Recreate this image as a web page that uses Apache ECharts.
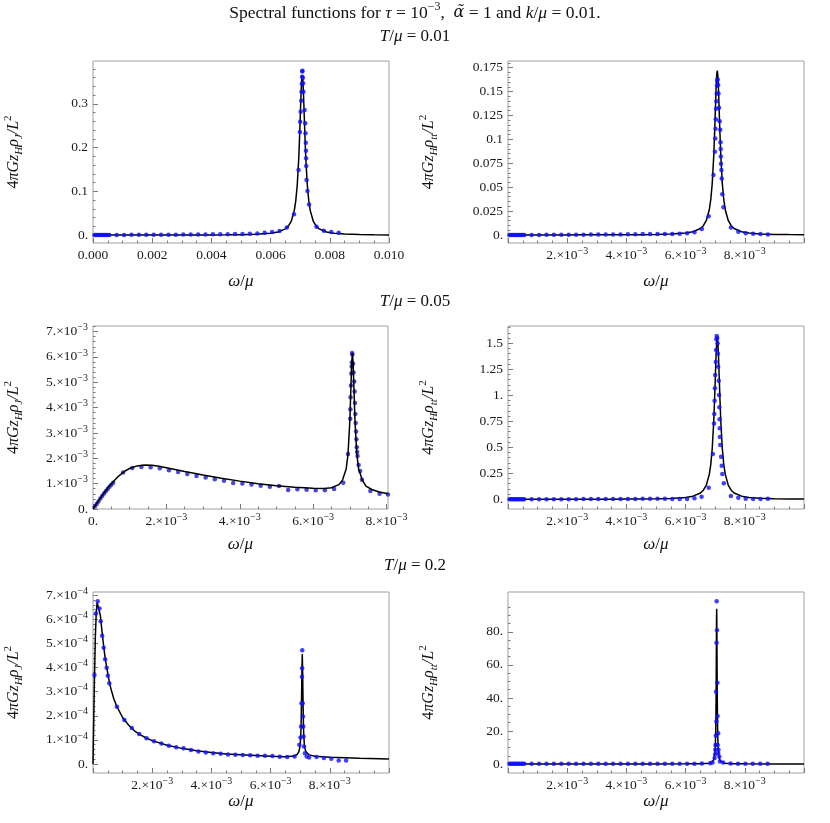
<!DOCTYPE html>
<html><head><meta charset="utf-8">
<script src="https://cdn.jsdelivr.net/npm/echarts@6/dist/echarts.min.js"></script>
<style>html,body{margin:0;padding:0;background:#fff}#c{width:830px;height:823px}</style>
</head><body><div id="c"></div>
<script>
// ---------------- DATA (x in units of 1e-3; y in units stated per panel) ----------------
// Panel 1: T/mu = 0.01, rho_J (y units 1)
const P1_LINE = [[0,0.0001],[0.5,0.00011],[1,0.00013],[1.5,0.00016],[2,0.00019],[2.5,0.00023],[3,0.00029],[3.5,0.00038],[4,0.00051],[4.5,0.00073],[5,0.00112],[5.5,0.00195],[6,0.0042],[6.25,0.0071],[6.5,0.0143],[6.6,0.0206],[6.7,0.0322],[6.8,0.0561],[6.85,0.0783],[6.9,0.1146],[6.95,0.1747],[6.98,0.2263],[7.0,0.2662],[7.03,0.3256],[7.05,0.3543],[7.07,0.365],[7.09,0.3543],[7.11,0.3256],[7.14,0.2662],[7.16,0.2263],[7.19,0.1747],[7.24,0.1146],[7.29,0.0783],[7.34,0.0561],[7.44,0.0322],[7.54,0.0206],[7.64,0.0143],[7.89,0.0071],[8.14,0.0042],[8.5,0.0023],[9,0.0013],[9.5,0.0008],[10,0.00056]];
const P1_DOTS = [[0.05,0.0002],[0.1,0.0002],[0.15,0.0002],[0.2,0.0002],[0.25,0.0002],[0.3,0.0002],[0.35,0.0002],[0.4,0.0002],[0.45,0.0002],[0.5,0.0002],[0.55,0.0002],
[0.8,0.0004],[1.05,0.0005],[1.3,0.0006],[1.55,0.0006],[1.8,0.0007],[2.05,0.0008],[2.3,0.0009],[2.55,0.001],[2.8,0.0011],[3.05,0.0012],[3.3,0.0013],[3.55,0.0015],[3.8,0.0016],[4.05,0.0018],[4.3,0.002],[4.55,0.0022],[4.8,0.0025],[5.05,0.0028],[5.3,0.0032],[5.55,0.004],[5.8,0.0052],[6.05,0.0072],[6.3,0.0095],[6.55,0.0176],[6.79,0.048],
[6.945,0.149],[6.99,0.236],[7.0,0.259],[7.015,0.282],[7.035,0.307],[7.045,0.328],[7.055,0.346],[7.065,0.362],[7.07,0.374],[7.075,0.376],[7.09,0.36],[7.1,0.347],[7.11,0.328],[7.15,0.286],[7.17,0.256],[7.18,0.233],[7.19,0.211],[7.195,0.193],[7.2,0.176],[7.205,0.158],[7.215,0.126],[7.245,0.101],[7.3,0.07],
[7.55,0.019],[7.8,0.0098],[8.05,0.0069],[8.3,0.0053]];

// Panel 2: T/mu = 0.01, rho_tt (y units 1)
const P2_LINE = [[0,0.00005],[0.5,0.00005],[1,0.00006],[1.5,0.00008],[2,0.00009],[2.5,0.00011],[3,0.00014],[3.5,0.00018],[4,0.00024],[4.5,0.00034],[5,0.00053],[5.5,0.00092],[6,0.00198],[6.25,0.00334],[6.5,0.00674],[6.6,0.0097],[6.7,0.0152],[6.8,0.0264],[6.85,0.0369],[6.9,0.054],[6.95,0.0823],[6.98,0.1066],[7.0,0.1254],[7.03,0.1534],[7.05,0.1669],[7.07,0.172],[7.09,0.1669],[7.11,0.1534],[7.14,0.1254],[7.16,0.1066],[7.19,0.0823],[7.24,0.054],[7.29,0.0369],[7.34,0.0264],[7.44,0.0152],[7.54,0.0097],[7.64,0.00674],[7.89,0.00334],[8.14,0.00198],[8.5,0.00108],[9,0.00061],[9.5,0.00038],[10,0.00026]];
const P2_DOTS = [[0.05,0.0001],[0.1,0.0001],[0.15,0.0001],[0.2,0.0001],[0.25,0.0001],[0.3,0.0001],[0.35,0.0001],[0.4,0.0001],[0.45,0.0001],[0.5,0.0001],[0.55,0.0001],
[0.8,0.0001],[1.05,0.0001],[1.3,0.0002],[1.55,0.0002],[1.8,0.0002],[2.05,0.0003],[2.3,0.0003],[2.55,0.0003],[2.8,0.0004],[3.05,0.0004],[3.3,0.0005],[3.55,0.0005],[3.8,0.0006],[4.05,0.0007],[4.3,0.0008],[4.55,0.0009],[4.8,0.001],[5.05,0.001],[5.3,0.0011],[5.55,0.0011],[5.8,0.0014],[6.05,0.0018],[6.3,0.0028],[6.55,0.0063],[6.78,0.0195],
[6.94,0.0628],[6.99,0.087],[7.0,0.101],[7.01,0.111],[7.02,0.121],[7.03,0.132],[7.04,0.14],[7.05,0.148],[7.06,0.156],[7.07,0.161],[7.08,0.163],[7.1,0.157],[7.11,0.148],[7.13,0.133],[7.15,0.119],[7.17,0.11],[7.18,0.097],[7.185,0.09],[7.19,0.082],[7.195,0.0746],[7.21,0.068],[7.22,0.059],[7.24,0.0425],[7.28,0.029],
[7.53,0.0077],[7.78,0.0035],[8.03,0.0017],[8.28,0.0013],[8.53,0.001],[8.78,0.0006]];

// Panel 3: T/mu = 0.05, rho_J (y units 1e-3)
const P3_LINE = [[0,0],[0.1,0.22],[0.2,0.43],[0.3,0.63],[0.4,0.83],[0.5,1.0],[0.6,1.15],[0.7,1.3],[0.8,1.42],[0.9,1.52],[1.0,1.6],[1.2,1.7],[1.4,1.74],[1.6,1.73],[1.8,1.69],[2.0,1.63],[2.5,1.48],[3.0,1.34],[3.5,1.21],[4.0,1.1],[4.5,1.0],[5.0,0.92],[5.5,0.86],[6.0,0.82],[6.3,0.81],[6.5,0.84],[6.7,0.96],[6.8,1.14],[6.9,1.58],[6.95,2.16],[7.0,3.47],[7.03,4.83],[7.05,5.74],[7.07,6.15],[7.09,5.74],[7.11,4.83],[7.14,3.47],[7.19,2.16],[7.24,1.58],[7.34,1.14],[7.44,0.9],[7.6,0.77],[7.8,0.67],[8.04,0.6]];
const P3_DOTS = [[0.05,0.1],[0.1,0.2],[0.15,0.3],[0.2,0.41],[0.25,0.51],[0.3,0.61],[0.35,0.7],[0.4,0.79],[0.45,0.88],[0.5,0.96],[0.55,1.04],
[0.82,1.44],[1.07,1.62],[1.32,1.66],[1.57,1.65],[1.82,1.61],[2.07,1.53],[2.32,1.46],[2.57,1.38],[2.82,1.3],[3.07,1.24],[3.32,1.17],[3.57,1.11],[3.82,1.03],[4.07,1.01],[4.32,0.97],[4.57,0.92],[4.82,0.88],[5.07,0.91],[5.32,0.75],[5.57,0.78],[5.82,0.76],[6.07,0.74],[6.32,0.74],[6.57,0.79],[6.82,1.04],
[6.95,2.17],[7.01,3.56],[7.015,3.94],[7.02,4.41],[7.03,4.87],[7.04,5.35],[7.05,5.62],[7.055,5.78],[7.06,6.15],[7.07,6.1],[7.09,5.73],[7.1,5.39],[7.12,5.03],[7.13,4.64],[7.14,4.18],[7.15,3.75],[7.16,3.39],[7.17,3.06],[7.18,2.75],[7.19,2.44],[7.2,2.25],[7.21,2.09],[7.24,1.74],[7.28,1.5],[7.33,1.15],
[7.56,0.71],[7.81,0.6],[8.04,0.57]];

// Panel 4: T/mu = 0.05, rho_tt (y units 1)
const P4_LINE = [[0,0.0004],[0.5,0.0005],[1,0.0006],[1.5,0.0007],[2,0.0008],[2.5,0.001],[3,0.0012],[3.5,0.0016],[4,0.0022],[4.5,0.0031],[5,0.0048],[5.5,0.0083],[6,0.0179],[6.25,0.0303],[6.5,0.061],[6.6,0.088],[6.7,0.1375],[6.8,0.2395],[6.85,0.334],[6.9,0.489],[6.95,0.746],[6.98,0.966],[7.0,1.137],[7.03,1.39],[7.05,1.513],[7.07,1.56],[7.09,1.513],[7.11,1.39],[7.14,1.137],[7.16,0.966],[7.19,0.746],[7.24,0.489],[7.29,0.334],[7.34,0.2395],[7.44,0.1375],[7.54,0.088],[7.64,0.061],[7.89,0.0303],[8.14,0.0179],[8.5,0.0098],[9,0.0056],[9.5,0.0034],[10,0.0024]];
const P4_DOTS = [[0.05,0.001],[0.1,0.001],[0.15,0.001],[0.2,0.001],[0.25,0.001],[0.3,0.001],[0.35,0.001],[0.4,0.001],[0.45,0.001],[0.5,0.001],[0.55,0.001],
[0.8,0.001],[1.05,0.001],[1.3,0.001],[1.55,0.001],[1.8,0.001],[2.05,0.0015],[2.3,0.0015],[2.55,0.002],[2.8,0.002],[3.05,0.002],[3.3,0.0025],[3.55,0.003],[3.8,0.003],[4.05,0.0035],[4.3,0.004],[4.55,0.0045],[4.8,0.005],[5.05,0.005],[5.3,0.005],[5.55,0.002],[5.8,0.003],[6.05,0.004],[6.3,0.01],[6.54,0.025],[6.78,0.112],
[6.92,0.436],[6.96,0.73],[6.97,0.82],[6.98,0.948],[6.99,1.067],[7.0,1.195],[7.02,1.32],[7.03,1.436],[7.04,1.538],[7.05,1.57],[7.07,1.55],[7.08,1.5],[7.09,1.4],[7.1,1.275],[7.12,1.14],[7.13,1.003],[7.14,0.884],[7.15,0.769],[7.155,0.682],[7.16,0.6],[7.17,0.522],[7.2,0.41],[7.22,0.323],[7.24,0.243],[7.29,0.154],
[7.53,0.032],[7.78,0.016],[8.03,0.006],[8.28,0.004],[8.53,0.004],[8.78,0.006]];

// Panel 5: T/mu = 0.2, rho_J (y units 1e-4)
const P5_LINE = [[0,0],[0.02,1.5],[0.05,3.6],[0.08,5.3],[0.11,6.3],[0.14,6.7],[0.17,6.76],[0.2,6.65],[0.25,6.15],[0.3,5.55],[0.35,5.0],[0.4,4.5],[0.45,4.1],[0.5,3.75],[0.55,3.42],[0.6,3.15],[0.7,2.72],[0.8,2.4],[1.0,1.93],[1.2,1.62],[1.4,1.38],[1.6,1.21],[1.8,1.08],[2.0,0.97],[2.5,0.78],[3.0,0.65],[3.5,0.55],[4.0,0.48],[4.5,0.42],[5.0,0.38],[5.5,0.35],[6.0,0.32],[6.5,0.3],[6.8,0.33],[6.9,0.4],[6.95,0.5],[6.98,0.65],[7.0,0.8],[7.02,1.2],[7.03,1.6],[7.04,2.3],[7.05,3.1],[7.06,4.0],[7.07,4.56],[7.08,4.0],[7.09,3.1],[7.1,2.3],[7.11,1.6],[7.12,1.2],[7.14,0.8],[7.17,0.6],[7.2,0.5],[7.3,0.38],[7.5,0.32],[8.0,0.28],[9.0,0.24],[10.0,0.21]];
const P5_DOTS = [[0.05,3.69],[0.1,6.24],[0.16,6.75],[0.22,6.45],[0.26,5.92],[0.31,5.32],[0.36,4.82],[0.41,4.35],[0.46,3.99],[0.5,3.66],[0.55,3.35],
[0.81,2.38],[1.06,1.83],[1.31,1.49],[1.56,1.25],[1.81,1.07],[2.06,0.95],[2.31,0.85],[2.56,0.76],[2.81,0.7],[3.06,0.65],[3.31,0.58],[3.56,0.52],[3.81,0.48],[4.06,0.45],[4.31,0.43],[4.56,0.4],[4.81,0.38],[5.06,0.37],[5.31,0.36],[5.56,0.34],[5.81,0.34],[6.06,0.33],[6.31,0.3],[6.56,0.29],[6.81,0.31],
[6.97,0.8],[7.01,1.1],[7.03,1.56],[7.045,2.52],[7.06,3.62],[7.065,3.97],[7.07,4.72],[7.085,2.52],[7.095,1.97],[7.105,1.56],[7.115,1.14],[7.125,0.73],[7.16,0.45],[7.22,0.31],[7.3,0.27],
[7.55,0.29],[7.8,0.25],[8.05,0.22],[8.3,0.15],[8.55,0.15]];

// Panel 6: T/mu = 0.2, rho_tt (y units 1)
const P6_LINE = [[0,0.05],[2,0.06],[4,0.08],[5,0.1],[6,0.15],[6.5,0.25],[6.8,0.55],[6.9,1.3],[6.95,2.7],[6.98,5.3],[7.0,9.8],[7.01,14.5],[7.02,23],[7.03,39.5],[7.035,53],[7.04,70],[7.045,86.5],[7.05,94],[7.055,86.5],[7.06,70],[7.065,53],[7.07,39.5],[7.08,23],[7.09,14.5],[7.1,9.8],[7.12,5.3],[7.15,2.7],[7.2,1.3],[7.3,0.55],[7.6,0.25],[8,0.15],[9,0.1],[10,0.08]];
const P6_DOTS = [[0.05,0.2],[0.1,0.2],[0.15,0.2],[0.2,0.2],[0.25,0.2],[0.3,0.2],[0.35,0.2],[0.4,0.2],[0.45,0.2],[0.5,0.2],[0.55,0.2],
[0.8,0.2],[1.05,0.2],[1.3,0.2],[1.55,0.2],[1.8,0.2],[2.05,0.2],[2.3,0.2],[2.55,0.2],[2.8,0.2],[3.05,0.2],[3.3,0.2],[3.55,0.2],[3.8,0.2],[4.05,0.2],[4.3,0.2],[4.55,0.2],[4.8,0.2],[5.05,0.2],[5.3,0.2],[5.55,0.2],[5.8,0.2],[6.05,0.2],[6.3,0.2],[6.55,0.3],[6.83,0.5],
[6.91,1.0],[6.98,3.6],[7.0,6.0],[7.005,8.6],[7.01,11.6],[7.02,17.1],[7.03,43.8],[7.04,25.7],[7.045,73.4],[7.05,98.5],[7.06,81.0],[7.075,49.2],[7.08,29.1],[7.085,11.6],[7.1,18.7],[7.1,6.5],[7.11,8.6],[7.14,4.5],[7.16,1.6],[7.27,1.0],
[7.52,0.4],[7.77,0.2],[8.02,0.2],[8.27,0.2],[8.52,0.2],[8.77,0.2]];

// ---------------- TICKS / LABELS ----------------
const X_TICKS_E3 = [0, 2, 4, 6, 8, 10];
const X_LABELS = ['', '2.×10^−3', '4.×10^−3', '6.×10^−3', '8.×10^−3', ''];
const P1_X_LABELS = ['0.000', '0.002', '0.004', '0.006', '0.008', '0.010'];
const P3_X_TICKS_E3 = [0, 2, 4, 6, 8];
const P3_X_LABELS = ['0.', '2.×10^−3', '4.×10^−3', '6.×10^−3', '8.×10^−3'];
const X_MINOR_E3 = [0.5,1,1.5,2.5,3,3.5,4.5,5,5.5,6.5,7,7.5,8.5,9,9.5];
const P3_X_MINOR_E3 = [0.5,1,1.5,2.5,3,3.5,4.5,5,5.5,6.5,7,7.5];

const P1_Y_TICKS = [0, 0.1, 0.2, 0.3];
const P1_Y_LABELS = ['0.', '0.1', '0.2', '0.3'];
const P2_Y_TICKS = [0, 0.025, 0.05, 0.075, 0.1, 0.125, 0.15, 0.175];
const P2_Y_LABELS = ['0.', '0.025', '0.05', '0.075', '0.1', '0.125', '0.15', '0.175'];
const P3_Y_TICKS = [0, 1, 2, 3, 4, 5, 6, 7];          // units 1e-3
const P3_Y_LABELS = ['0.', '1.×10^−3', '2.×10^−3', '3.×10^−3', '4.×10^−3', '5.×10^−3', '6.×10^−3', '7.×10^−3'];
const P4_Y_TICKS = [0, 0.25, 0.5, 0.75, 1, 1.25, 1.5];
const P4_Y_LABELS = ['0.', '0.25', '0.5', '0.75', '1.', '1.25', '1.5'];
const P5_Y_TICKS = [0, 1, 2, 3, 4, 5, 6, 7];          // units 1e-4
const P5_Y_LABELS = ['0.', '1.×10^−4', '2.×10^−4', '3.×10^−4', '4.×10^−4', '5.×10^−4', '6.×10^−4', '7.×10^−4'];
const P6_Y_TICKS = [0, 20, 40, 60, 80];
const P6_Y_LABELS = ['0.', '20.', '40.', '60.', '80.'];

const TITLE_TEXT = '{n|Spectral functions for }{i|τ}{n| = 10}{s|−3}{n|,  }{a|α̃}{n| = 1 and }{i|k}{n|/}{i|μ}{n| = 0.01.}';
const ROW_TITLES = ['0.01', '0.05', '0.2'];

// ---------------- BUILD ----------------
const FF = "'Liberation Serif','DejaVu Serif','Times New Roman',serif";
function tok(size, italic, lh, va, fam) {
  return { fontFamily: fam || FF, fontSize: size, fontStyle: italic ? 'italic' : 'normal', lineHeight: lh, verticalAlign: va || 'middle', fill: '#111' };
}
const NAME_RICH = { n: tok(17, false, 22), i: tok(17, true, 22) };
const YNAME_RICH = { n: tok(16, false, 22), i: tok(16, true, 22), b: tok(11, true, 8, 'bottom'), s: tok(11, false, 8, 'top') };
const TITLE_RICH = { n: tok(17.5, false, 24), i: tok(17.5, true, 24), a: tok(16, true, 24, 'middle', "'DejaVu Serif',serif"), s: tok(12, false, 9, 'top') };
const SUB_RICH = { n: tok(17, false, 22), i: tok(17, true, 22) };
function gtext(x, y, text, rich, rot) {
  return { type: 'text', x: x, y: y, rotation: rot || 0, silent: true, z: 100,
    style: { text: text, rich: rich, align: 'center', verticalAlign: 'middle', fill: '#111', fontFamily: FF, fontSize: 14 } };
}
function scalePts(arr, xs, ys) { return arr.map(p => [p[0] * xs, p[1] * ys]); }
function minorTicks(lo, hi, step, major) {
  const out = [];
  for (let k = Math.ceil(lo / step - 1e-9); k * step <= hi + 1e-12; k++) {
    const v = k * step;
    if (Math.abs(v / major - Math.round(v / major)) > 1e-6 && v >= lo && v <= hi) out.push(+v.toPrecision(10));
  }
  return out;
}
function richLabel(s) {
  if (!s) return '';
  const k = s.indexOf('^');
  if (k < 0) return '{m|' + s + '}';
  return '{m|' + s.slice(0, k) + '}{s|' + s.slice(k + 1) + '}';
}
const LABEL_RICH = {
  m: { fontFamily: FF, fontSize: 13.5, lineHeight: 18, color: '#1a1a1a', verticalAlign: 'middle' },
  s: { fontFamily: FF, fontSize: 10, lineHeight: 7, color: '#1a1a1a', verticalAlign: 'top' }
};

const PANELS = [
  { left: 93, top: 61, width: 296, height: 182, xMin: 0, xMax: 0.01, yMin: -0.018, yMax: 0.398,
    xt: X_TICKS_E3, xl: P1_X_LABELS, xm: X_MINOR_E3, yt: P1_Y_TICKS, yl: P1_Y_LABELS, yStep: 0.02, yMajor: 0.1, yUnit: 1,
    line: P1_LINE, dots: P1_DOTS, lineTop: false, dotColor: '#0f0fff', yName: 'J', nameY: 282 },
  { left: 508, top: 61, width: 296, height: 182, xMin: 0, xMax: 0.01, yMin: -0.0084, yMax: 0.182,
    xt: X_TICKS_E3, xl: X_LABELS, xm: X_MINOR_E3, yt: P2_Y_TICKS, yl: P2_Y_LABELS, yStep: 0.005, yMajor: 0.025, yUnit: 1,
    line: P2_LINE, dots: P2_DOTS, lineTop: false, dotColor: '#0f0fff', yName: 'tt', nameY: 282 },
  { left: 93, top: 326, width: 295, height: 183, xMin: 0, xMax: 0.00804, yMin: 0, yMax: 0.00722,
    xt: P3_X_TICKS_E3, xl: P3_X_LABELS, xm: P3_X_MINOR_E3, yt: P3_Y_TICKS, yl: P3_Y_LABELS, yStep: 0.2, yMajor: 1, yUnit: 1e-3,
    line: P3_LINE, dots: P3_DOTS, lineTop: true, dotColor: '#1a1ad0', yName: 'J', nameY: 545 },
  { left: 508, top: 326, width: 296, height: 183, xMin: 0, xMax: 0.01, yMin: -0.093, yMax: 1.666,
    xt: X_TICKS_E3, xl: X_LABELS, xm: X_MINOR_E3, yt: P4_Y_TICKS, yl: P4_Y_LABELS, yStep: 0.05, yMajor: 0.25, yUnit: 1,
    line: P4_LINE, dots: P4_DOTS, lineTop: false, dotColor: '#0f0fff', yName: 'tt', nameY: 545 },
  { left: 93, top: 592, width: 296, height: 181, xMin: 0, xMax: 0.01, yMin: -0.372e-4, yMax: 7.136e-4,
    xt: X_TICKS_E3, xl: X_LABELS, xm: X_MINOR_E3, yt: P5_Y_TICKS, yl: P5_Y_LABELS, yStep: 0.2, yMajor: 1, yUnit: 1e-4,
    line: P5_LINE, dots: P5_DOTS, lineTop: false, dotColor: '#0f0fff', yName: 'J', nameY: 802 },
  { left: 508, top: 592, width: 296, height: 181, xMin: 0, xMax: 0.01, yMin: -5.4, yMax: 104.1,
    xt: X_TICKS_E3, xl: X_LABELS, xm: X_MINOR_E3, yt: P6_Y_TICKS, yl: P6_Y_LABELS, yStep: 5, yMajor: 20, yUnit: 1,
    line: P6_LINE, dots: P6_DOTS, lineTop: false, dotColor: '#0f0fff', yName: 'tt', nameY: 802 }
];

const TICK_COLOR = '#7a7a7a';
const option = { animation: false, backgroundColor: '#ffffff', grid: [], xAxis: [], yAxis: [], series: [], graphic: [] };

PANELS.forEach((p, i) => {
  option.grid.push({ left: p.left, top: p.top, width: p.width, height: p.height, show: true,
    borderColor: '#a0a0a0', borderWidth: 1, backgroundColor: 'transparent', containLabel: false, outerBoundsMode: 'none' });
  const xTicks = p.xt.map(v => v * 1e-3);
  const xMinor = p.xm.map(v => v * 1e-3);
  const yTicks = p.yt.map(v => v * p.yUnit);
  const yMinor = minorTicks(Math.max(0, p.yMin / p.yUnit), p.yMax / p.yUnit, p.yStep, p.yMajor).map(v => v * p.yUnit);
  const lookup = (ticks, labels) => (v) => {
    for (let k = 0; k < ticks.length; k++) if (Math.abs(ticks[k] - v) < 1e-12 + Math.abs(v) * 1e-9) return richLabel(labels[k]);
    return '';
  };
  const base = { type: 'value', gridIndex: i, splitLine: { show: false }, axisLine: { show: false, onZero: false } };
  option.xAxis.push(Object.assign({}, base, { min: p.xMin, max: p.xMax, position: 'bottom',
    axisTick: { show: true, inside: true, length: 5, customValues: xTicks, lineStyle: { color: TICK_COLOR, width: 1 } },
    axisLabel: { show: true, customValues: xTicks, margin: 3, formatter: lookup(xTicks, p.xl), rich: LABEL_RICH } }));
  option.xAxis.push(Object.assign({}, base, { min: p.xMin, max: p.xMax, position: 'bottom',
    axisTick: { show: true, inside: true, length: 2.5, customValues: xMinor, lineStyle: { color: TICK_COLOR, width: 1 } },
    axisLabel: { show: false } }));
  option.yAxis.push(Object.assign({}, base, { min: p.yMin, max: p.yMax, position: 'left',
    axisTick: { show: true, inside: true, length: 5, customValues: yTicks, lineStyle: { color: TICK_COLOR, width: 1 } },
    axisLabel: { show: true, customValues: yTicks, margin: 5, formatter: lookup(yTicks, p.yl), rich: LABEL_RICH } }));
  option.yAxis.push(Object.assign({}, base, { min: p.yMin, max: p.yMax, position: 'left',
    axisTick: { show: true, inside: true, length: 2.5, customValues: yMinor, lineStyle: { color: TICK_COLOR, width: 1 } },
    axisLabel: { show: false } }));

  option.series.push({ type: 'line', xAxisIndex: 2 * i, yAxisIndex: 2 * i, data: scalePts(p.line, 1e-3, p.yUnit),
    showSymbol: false, symbol: 'none', clip: true, lineStyle: { color: '#000', width: 1.5 }, z: p.lineTop ? 4 : 2, silent: true });
  option.series.push({ type: 'scatter', xAxisIndex: 2 * i, yAxisIndex: 2 * i, data: scalePts(p.dots, 1e-3, p.yUnit),
    symbol: 'circle', symbolSize: 4.5, clip: true, itemStyle: { color: p.dotColor }, z: p.lineTop ? 2 : 4, silent: true });

  const cx = p.left + p.width / 2;
  const cy = p.top + p.height / 2;
  option.graphic.push(gtext(cx, p.nameY, '{i|ω}{n|/}{i|μ}', NAME_RICH, 0));
  const yx = i % 2 === 0 ? 14 : 429;
  option.graphic.push(gtext(yx, cy, '{n|4}{i|πGz}{b|H}{i|ρ}{b|' + p.yName + '}{i|/L}{s|2}', YNAME_RICH, Math.PI / 2));
});

option.graphic.push(gtext(415, 13, TITLE_TEXT, TITLE_RICH, 0));
[37, 302, 566].forEach((y, r) => {
  option.graphic.push(gtext(415, y, '{i|T}{n|/}{i|μ}{n| = ' + ROW_TITLES[r] + '}', SUB_RICH, 0));
});

const chart = echarts.init(document.getElementById('c'), null, { renderer: 'canvas', width: 830, height: 823 });
chart.setOption(option);
</script>
</body></html>
